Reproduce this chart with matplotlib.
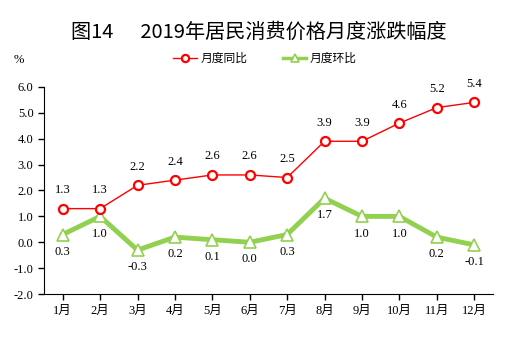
import matplotlib
matplotlib.use("Agg")
import matplotlib.pyplot as plt

months = ["1月", "2月", "3月", "4月", "5月", "6月", "7月", "8月", "9月", "10月", "11月", "12月"]
yoy = [1.3, 1.3, 2.2, 2.4, 2.6, 2.6, 2.5, 3.9, 3.9, 4.6, 5.2, 5.4]
mom = [0.3, 1.0, -0.3, 0.2, 0.1, 0.0, 0.3, 1.7, 1.0, 1.0, 0.2, -0.1]
yticks = [-2.0, -1.0, 0.0, 1.0, 2.0, 3.0, 4.0, 5.0, 6.0]

serif = ["Liberation Serif", "Noto Sans CJK SC"]
cjk = ["Noto Sans CJK SC", "DejaVu Sans"]

fig = plt.figure(figsize=(5.3, 3.42), dpi=100)
ax = fig.add_axes([0.083, 0.140, 0.847, 0.606])

x = list(range(len(months)))
red = "#FF0000"
green = "#92D050"

ax.plot(x, yoy, color=red, lw=1.0, marker="o", ms=6.5, mfc="white", mec=red, mew=1.6,
        label="月度同比", zorder=3)
ax.plot(x, mom, color=green, lw=3.5, marker="^", ms=8, mfc="white", mec=green, mew=1.2,
        label="月度环比", zorder=2)

for i, v in enumerate(yoy):
    ax.annotate(f"{v:.1f}", (i, v), xytext=(0, 9), textcoords="offset points",
                ha="center", va="bottom", fontsize=9, family=serif)
for i, v in enumerate(mom):
    ax.annotate(f"{v:.1f}", (i, v), xytext=(0, -8), textcoords="offset points",
                ha="center", va="top", fontsize=9, family=serif)

ax.set_xlim(-0.5, 11.5)
ax.set_ylim(-2.0, 6.0)
ax.set_yticks(yticks)
ax.set_yticklabels([f"{t:.1f}" for t in yticks], family=serif, fontsize=9)
ax.set_xticks(x)
ax.set_xticklabels(months, family=serif, fontsize=9)
ax.tick_params(axis="both", direction="out", length=4, width=1, colors="black")
ax.spines["top"].set_visible(False)
ax.spines["right"].set_visible(False)

fig.text(0.489, 0.906, "图14      2019年居民消费价格月度涨跌幅度", ha="center", va="center",
         fontsize=14.5, family=cjk)
fig.text(0.025, 0.825, "%", ha="left", va="center", fontsize=9, family=serif)
leg = fig.legend(loc="center", bbox_to_anchor=(0.5, 0.83), ncol=2, frameon=False,
                 prop={"family": cjk, "size": 8.5}, handlelength=2.0, columnspacing=3.0,
                 handletextpad=0.3, markerscale=0.8)
leg.get_lines()[1].set_linewidth(2.5)

fig.savefig("out.png", dpi=100)
